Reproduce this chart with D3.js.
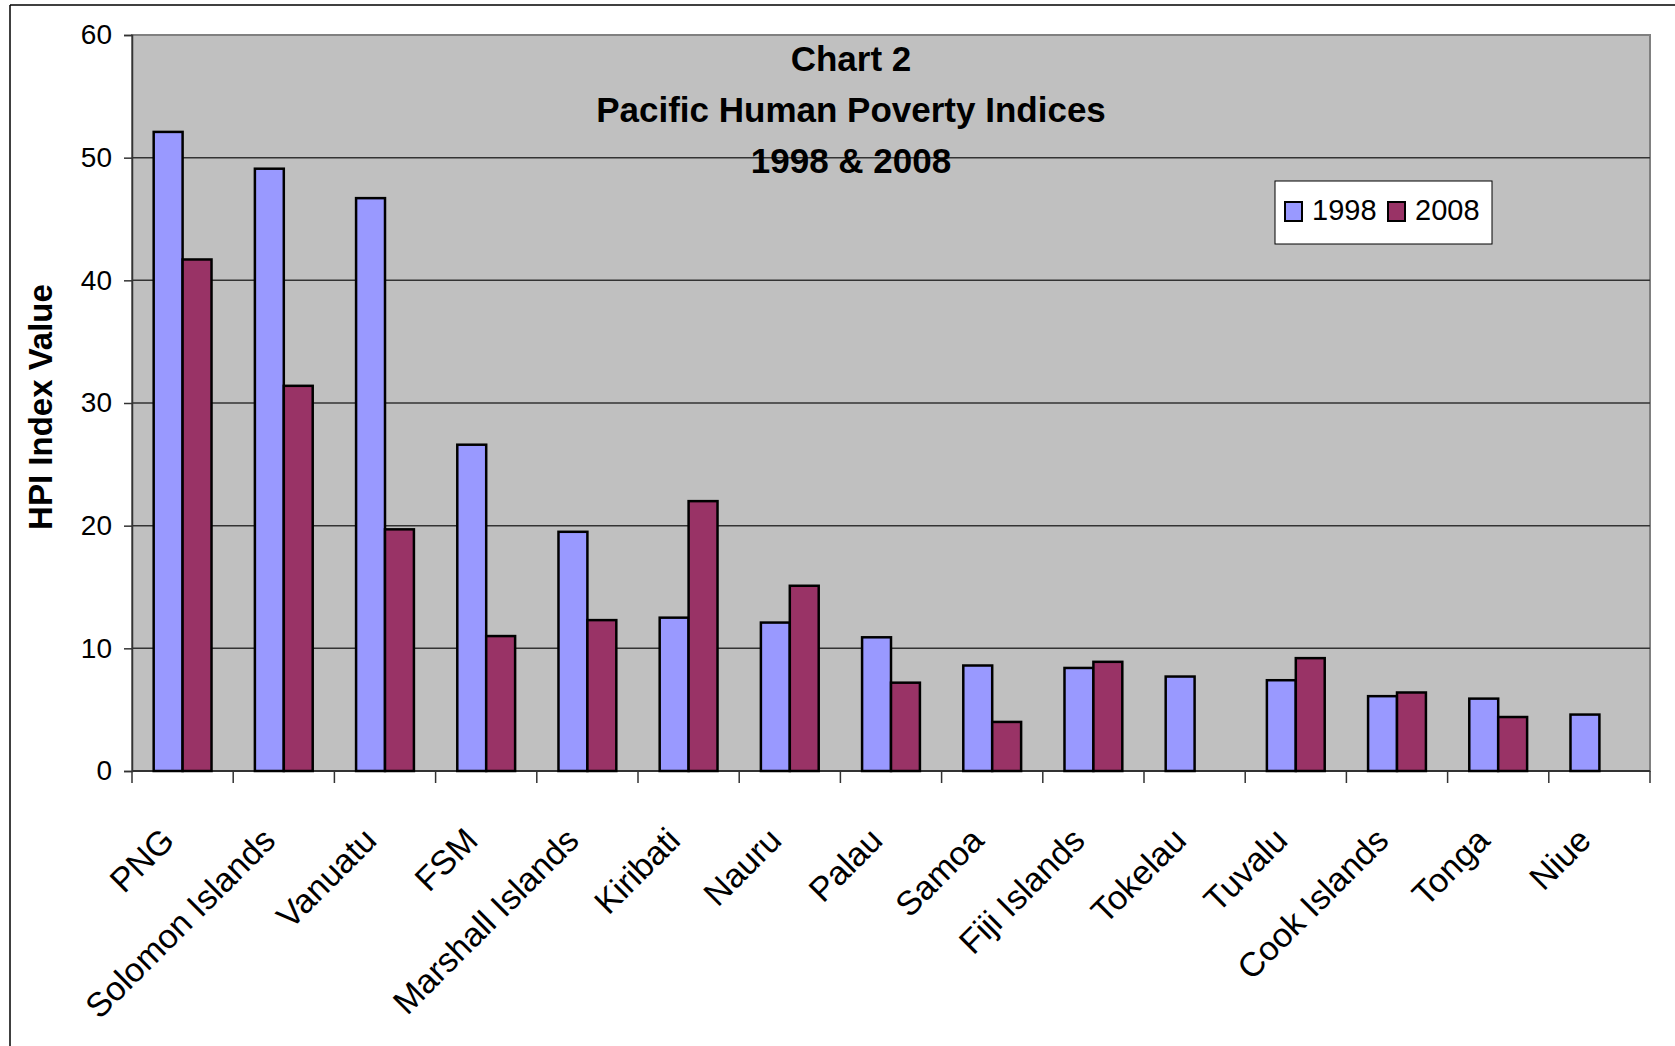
<!DOCTYPE html>
<html>
<head>
<meta charset="utf-8">
<script src="https://cdn.jsdelivr.net/npm/d3@7"></script>
<style>
  body { margin: 0; background: #fff; }
  text { font-family: "Liberation Sans", Arial, sans-serif; }
</style>
</head>
<body>
<svg id="chart" width="1675" height="1046"></svg>
<script>
var countries = ["PNG", "Solomon Islands", "Vanuatu", "FSM", "Marshall Islands", "Kiribati",
  "Nauru", "Palau", "Samoa", "Fiji Islands", "Tokelau", "Tuvalu", "Cook Islands", "Tonga", "Niue"];
var hpi1998 = [52.1, 49.1, 46.7, 26.6, 19.5, 12.5, 12.1, 10.9, 8.6, 8.4, 7.7, 7.4, 6.1, 5.9, 4.6];
var hpi2008 = [41.7, 31.4, 19.7, 11.0, 12.3, 22.0, 15.1, 7.2, 4.0, 8.9, null, 9.2, 6.4, 4.4, null];
var years = ["1998", "2008"];
var yTicks = [0, 10, 20, 30, 40, 50, 60];
var titleLines = ["Chart 2", "Pacific Human Poverty Indices", "1998 & 2008"];

var colors = { "1998": "#9999ff", "2008": "#993366" };

var svg = d3.select('#chart');
var plot = { left: 132, right: 1650, top: 35, bottom: 771 };

// outer chart border (only top and left show in the picture)
svg.append('line').attr('x1', 10).attr('x2', 1675).attr('y1', 5).attr('y2', 5)
  .style('stroke', '#000').style('stroke-width', 1.5);
svg.append('line').attr('x1', 10).attr('x2', 10).attr('y1', 5).attr('y2', 1046)
  .style('stroke', '#000').style('stroke-width', 1.5);

var x = d3.scaleBand().domain(countries).range([plot.left, plot.right]);
var x1 = d3.scaleBand().domain(years).range([0, x.bandwidth()]).paddingOuter(0.75).paddingInner(0);
var y = d3.scaleLinear().domain([0, 60]).range([plot.bottom, plot.top]);

svg.append('rect')
  .attr('x', plot.left).attr('y', plot.top)
  .attr('width', plot.right - plot.left).attr('height', plot.bottom - plot.top)
  .style('fill', '#c0c0c0').style('stroke', '#808080').style('stroke-width', 2);

// gridlines
svg.append('g').selectAll('line').data(yTicks.filter(function(d){ return d > 0 && d < 60; }))
  .enter().append('line')
  .attr('x1', plot.left).attr('x2', plot.right)
  .attr('y1', function(d){ return y(d); }).attr('y2', function(d){ return y(d); })
  .style('stroke', '#333').style('stroke-width', 1.5);

// y axis
var yAxis = svg.append('g')
  .attr('transform', 'translate(' + plot.left + ',0)')
  .call(d3.axisLeft(y).tickValues(yTicks).tickSize(8).tickPadding(12));
yAxis.select('.domain').style('stroke', '#333').style('stroke-width', 1.5);
yAxis.selectAll('.tick line').style('stroke', '#333').style('stroke-width', 1.5);
yAxis.selectAll('text').style('font-size', '28px').style('fill', '#000')
  .style('font-family', '"Liberation Sans", Arial, sans-serif');

// x axis: ticks between categories
var edges = countries.map(function(c){ return x(c); }).concat([plot.right]);
svg.append('g').selectAll('line').data(edges).enter().append('line')
  .attr('x1', function(d){ return d; }).attr('x2', function(d){ return d; })
  .attr('y1', plot.bottom).attr('y2', plot.bottom + 12)
  .style('stroke', '#333').style('stroke-width', 1.5);
svg.append('line').attr('x1', plot.left).attr('x2', plot.right)
  .attr('y1', plot.bottom).attr('y2', plot.bottom)
  .style('stroke', '#333').style('stroke-width', 2);

svg.append('g').selectAll('text').data(countries).enter().append('text')
  .attr('transform', function(d){
    return 'translate(' + (x(d) + x.bandwidth() / 2 - 15) + ',' + 834 + ') rotate(-45)';
  })
  .attr('text-anchor', 'end')
  .attr('dominant-baseline', 'central')
  .style('font-size', '34px')
  .text(function(d){ return d; });

// bars
var rows = [];
countries.forEach(function(c, i){
  rows.push({ country: c, year: "1998", value: hpi1998[i] });
  rows.push({ country: c, year: "2008", value: hpi2008[i] });
});
svg.append('g').selectAll('rect').data(rows.filter(function(d){ return d.value !== null; }))
  .enter().append('rect')
  .attr('x', function(d){ return x(d.country) + x1(d.year); })
  .attr('y', function(d){ return y(d.value); })
  .attr('width', x1.bandwidth())
  .attr('height', function(d){ return y(0) - y(d.value); })
  .style('fill', function(d){ return colors[d.year]; })
  .style('stroke', '#000').style('stroke-width', 2.5);

// title
svg.append('g').selectAll('text').data(titleLines).enter().append('text')
  .attr('x', 851)
  .attr('y', function(d, i){ return 71 + i * 51; })
  .attr('text-anchor', 'middle')
  .style('font-weight', 'bold')
  .style('font-size', '35px')
  .text(function(d){ return d; });

// y label
svg.append('text')
  .attr('transform', 'translate(40,407) rotate(-90)')
  .attr('text-anchor', 'middle')
  .attr('dominant-baseline', 'central')
  .style('font-weight', 'bold')
  .style('font-size', '33px')
  .text('HPI Index Value');

// legend
var legend = svg.append('g').attr('transform', 'translate(1275,181)');
legend.append('rect').attr('width', 217).attr('height', 63)
  .style('fill', '#fff').style('stroke', '#000').style('stroke-width', 1);
var legX = [10, 113];
years.forEach(function(yr, i){
  legend.append('rect').attr('x', legX[i]).attr('y', 21).attr('width', 17).attr('height', 19)
    .style('fill', colors[yr]).style('stroke', '#000').style('stroke-width', 2);
  legend.append('text').attr('x', legX[i] + 27).attr('y', 29)
    .attr('dominant-baseline', 'central')
    .style('font-size', '29px')
    .text(yr);
});
</script>
</body>
</html>
